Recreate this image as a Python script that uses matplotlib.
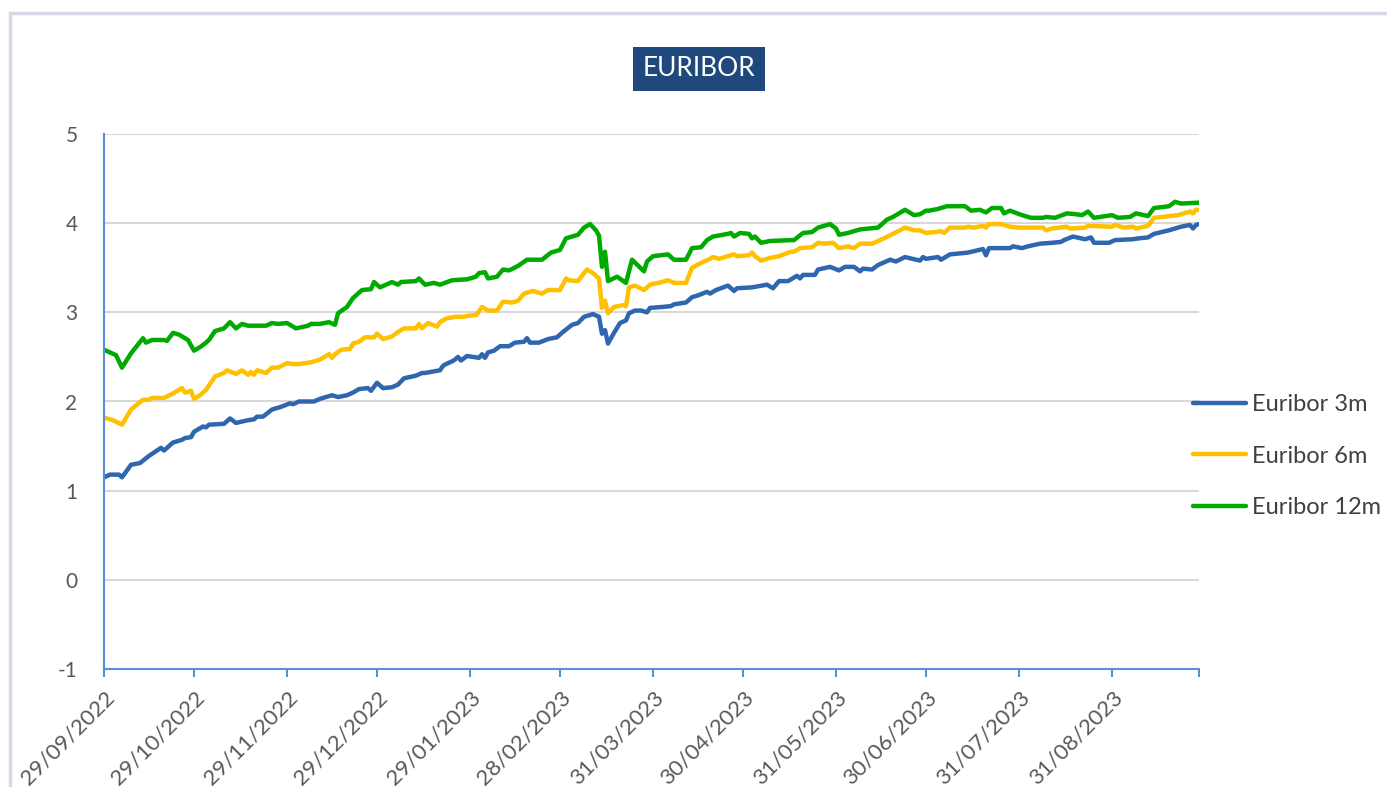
import numpy as np
import pandas as pd
import matplotlib
matplotlib.use("Agg")
import matplotlib.pyplot as plt
from matplotlib.patches import Rectangle

plt.rcParams['font.family'] = ['Lato', 'DejaVu Sans']
plt.rcParams['axes.unicode_minus'] = False

start = pd.Timestamp('2022-09-29')
end = pd.Timestamp('2023-09-29')

# days since 29/09/2022 and values
days_3m = [0, 2, 5, 6, 9, 12, 15, 19, 20, 23, 26, 27, 29, 30, 33, 34, 35, 40, 42, 44, 48, 50, 51, 53, 56, 59, 62, 63,
           65, 70, 72, 74, 76, 78, 81, 83, 85, 88, 89, 91, 93, 96, 98, 100, 104, 106, 107, 112, 113, 114, 116, 117,
           118, 119, 121, 125, 126, 127, 128, 130, 132, 135, 137, 140, 141, 142, 145, 148, 151, 153, 156, 158, 160,
           163, 165, 166, 167, 168, 170, 172, 174, 175, 177, 179, 181, 182, 186, 189, 190, 194, 196, 198, 201, 202,
           204, 208, 210, 211, 216, 221, 223, 225, 228, 229, 231, 232, 233, 237, 238, 242, 245, 247, 250, 252, 253,
           256, 258, 262, 264, 267, 272, 273, 274, 278, 279, 282, 288, 293, 294, 295, 302, 303, 306, 308, 312, 316,
           319, 320, 323, 327, 329, 330, 335, 337, 343, 345, 348, 350, 355, 359, 362, 363, 364, 365]
euribor_3m = [1.15, 1.18, 1.18, 1.15, 1.29, 1.31, 1.39, 1.48, 1.45, 1.54, 1.57, 1.59, 1.60, 1.66, 1.72, 1.71, 1.74,
              1.75, 1.81, 1.76, 1.79, 1.80, 1.83, 1.83, 1.91, 1.94, 1.98, 1.97, 2.00, 2.00, 2.03, 2.05, 2.07, 2.05,
              2.07, 2.10, 2.14, 2.15, 2.12, 2.21, 2.15, 2.16, 2.19, 2.26, 2.29, 2.32, 2.32, 2.35, 2.40, 2.42, 2.45,
              2.47, 2.50, 2.46, 2.51, 2.49, 2.53, 2.49, 2.55, 2.57, 2.62, 2.62, 2.66, 2.67, 2.71, 2.66, 2.66, 2.70,
              2.72, 2.78, 2.86, 2.88, 2.95, 2.98, 2.95, 2.76, 2.80, 2.65, 2.77, 2.88, 2.91, 2.99, 3.02, 3.02, 3.00,
              3.05, 3.06, 3.07, 3.09, 3.11, 3.17, 3.19, 3.23, 3.21, 3.25, 3.30, 3.24, 3.27, 3.28, 3.31, 3.27, 3.35,
              3.35, 3.37, 3.41, 3.38, 3.42, 3.42, 3.48, 3.51, 3.47, 3.51, 3.51, 3.46, 3.49, 3.48, 3.53, 3.59, 3.57,
              3.62, 3.58, 3.62, 3.60, 3.62, 3.59, 3.65, 3.67, 3.71, 3.64, 3.72, 3.72, 3.74, 3.72, 3.74, 3.77, 3.78,
              3.79, 3.81, 3.85, 3.82, 3.84, 3.78, 3.78, 3.81, 3.82, 3.83, 3.84, 3.88, 3.92, 3.96, 3.98, 3.94, 3.98,
              3.99]

days_6m = [0, 3, 6, 9, 13, 15, 16, 20, 23, 26, 27, 29, 30, 32, 34, 37, 40, 41, 44, 46, 48, 49, 50, 51, 54, 56, 58,
           61, 63, 65, 69, 72, 75, 76, 77, 79, 82, 83, 85, 87, 90, 91, 93, 96, 98, 100, 104, 105, 106, 108, 111, 112,
           114, 117, 120, 121, 124, 125, 126, 128, 131, 133, 136, 138, 140, 143, 146, 148, 152, 154, 155, 158, 160,
           161, 163, 165, 166, 167, 168, 170, 173, 174, 175, 177, 180, 182, 186, 188, 190, 194, 196, 200, 202, 203,
           205, 208, 210, 211, 215, 216, 217, 219, 222, 225, 229, 230, 232, 236, 238, 240, 243, 245, 248, 250, 252,
           256, 258, 260, 263, 267, 270, 272, 274, 277, 279, 280, 282, 287, 288, 290, 293, 294, 295, 299, 302, 305,
           313, 314, 316, 321, 322, 327, 328, 336, 337, 340, 343, 344, 348, 350, 358, 362, 363, 364, 365]
euribor_6m = [1.82, 1.79, 1.74, 1.91, 2.02, 2.02, 2.04, 2.04, 2.09, 2.15, 2.10, 2.12, 2.03, 2.07, 2.13, 2.28, 2.32,
              2.35, 2.31, 2.35, 2.30, 2.33, 2.30, 2.35, 2.32, 2.38, 2.38, 2.43, 2.42, 2.42, 2.44, 2.47, 2.53, 2.49,
              2.53, 2.58, 2.59, 2.65, 2.67, 2.72, 2.72, 2.76, 2.70, 2.73, 2.78, 2.82, 2.82, 2.87, 2.82, 2.88, 2.84,
              2.89, 2.93, 2.95, 2.95, 2.96, 2.97, 3.01, 3.06, 3.02, 3.02, 3.12, 3.11, 3.13, 3.21, 3.24, 3.21, 3.25,
              3.25, 3.38, 3.36, 3.35, 3.44, 3.48, 3.44, 3.38, 3.05, 3.13, 2.99, 3.06, 3.08, 3.07, 3.28, 3.30, 3.25,
              3.31, 3.34, 3.36, 3.33, 3.33, 3.50, 3.57, 3.60, 3.62, 3.60, 3.63, 3.65, 3.63, 3.64, 3.67, 3.63, 3.58,
              3.61, 3.63, 3.68, 3.68, 3.72, 3.73, 3.78, 3.77, 3.78, 3.72, 3.74, 3.72, 3.77, 3.77, 3.80, 3.83, 3.88,
              3.95, 3.92, 3.92, 3.89, 3.90, 3.91, 3.89, 3.95, 3.95, 3.96, 3.95, 3.97, 3.95, 3.99, 3.99, 3.96, 3.95,
              3.95, 3.92, 3.94, 3.96, 3.94, 3.95, 3.97, 3.96, 3.98, 3.95, 3.96, 3.94, 3.97, 4.06, 4.09, 4.13, 4.11,
              4.15, 4.15]

days_12m = [0, 4, 6, 9, 13, 14, 16, 20, 21, 23, 25, 28, 30, 32, 34, 35, 37, 40, 42, 44, 46, 48, 54, 56, 58, 61, 64,
            68, 69, 72, 75, 77, 78, 81, 83, 86, 89, 90, 92, 96, 98, 99, 104, 105, 107, 110, 112, 116, 121, 124, 125,
            127, 128, 131, 133, 135, 138, 141, 146, 149, 152, 154, 158, 160, 162, 164, 165, 166, 167, 168, 171, 174,
            176, 180, 181, 183, 188, 190, 194, 196, 199, 201, 203, 208, 209, 210, 212, 215, 216, 217, 219, 222, 229,
            230, 233, 236, 238, 242, 244, 245, 248, 252, 258, 261, 263, 267, 270, 272, 274, 275, 278, 281, 287, 289,
            292, 294, 296, 299, 300, 302, 306, 309, 313, 314, 317, 321, 324, 326, 328, 330, 336, 338, 342, 344, 348,
            350, 355, 357, 359, 365]
euribor_12m = [2.58, 2.52, 2.38, 2.54, 2.71, 2.66, 2.69, 2.69, 2.68, 2.77, 2.75, 2.69, 2.57, 2.61, 2.66, 2.69, 2.79,
               2.82, 2.89, 2.82, 2.87, 2.85, 2.85, 2.88, 2.87, 2.88, 2.82, 2.85, 2.87, 2.87, 2.89, 2.86, 2.99, 3.06,
               3.16, 3.25, 3.26, 3.34, 3.28, 3.34, 3.31, 3.34, 3.35, 3.38, 3.31, 3.33, 3.31, 3.36, 3.37, 3.40, 3.44,
               3.45, 3.38, 3.40, 3.48, 3.47, 3.52, 3.59, 3.59, 3.67, 3.70, 3.83, 3.87, 3.95, 3.99, 3.92, 3.86, 3.51,
               3.68, 3.35, 3.40, 3.33, 3.59, 3.46, 3.57, 3.63, 3.65, 3.59, 3.59, 3.72, 3.73, 3.81, 3.85, 3.88, 3.89,
               3.85, 3.89, 3.88, 3.83, 3.85, 3.78, 3.80, 3.81, 3.81, 3.89, 3.90, 3.95, 3.99, 3.94, 3.87, 3.89, 3.93,
               3.95, 4.04, 4.07, 4.15, 4.09, 4.10, 4.14, 4.14, 4.16, 4.19, 4.19, 4.14, 4.15, 4.12, 4.17, 4.17, 4.11,
               4.14, 4.09, 4.06, 4.06, 4.07, 4.06, 4.11, 4.10, 4.09, 4.13, 4.06, 4.09, 4.06, 4.07, 4.11, 4.08, 4.17,
               4.19, 4.24, 4.22, 4.23]

tick_labels = ['29/09/2022', '29/10/2022', '29/11/2022', '29/12/2022', '29/01/2023', '28/02/2023',
               '31/03/2023', '30/04/2023', '31/05/2023', '30/06/2023', '31/07/2023', '31/08/2023']
tick_dates = pd.to_datetime(tick_labels, format='%d/%m/%Y')

axis_blue = '#5B8ED8'
text_grey = '#595959'

fig = plt.figure(figsize=(13.87, 7.87), dpi=100)
ax = fig.add_axes([104 / 1387, 1 - 669 / 787, 1095 / 1387, 535 / 787])

# outer chart frame
fig.patches.append(Rectangle((10 / 1387, -0.1), 1.2, 1.1 - 13 / 787, transform=fig.transFigure,
                             fill=False, edgecolor='#D5D9E6', lw=2.5))

series = [(days_3m, euribor_3m, 'Euribor 3m', '#2F66B0'),
          (days_6m, euribor_6m, 'Euribor 6m', '#FFC000'),
          (days_12m, euribor_12m, 'Euribor 12m', '#00AA00')]
for d, v, name, col in series:
    dates = start + pd.to_timedelta(d, unit='D')
    ax.plot(dates, v, color=col, lw=3.2, label=name, solid_joinstyle='round', solid_capstyle='round')

ax.set_ylim(-1, 5)
ax.set_xlim(start, end)
ax.set_yticks(range(-1, 6))
ax.yaxis.grid(True, color='#D9D9D9', lw=1.5)
ax.set_axisbelow(True)

ax.set_xticks(tick_dates)
ax.set_xticklabels(tick_labels, rotation=45, ha='right', rotation_mode='anchor')
ax.set_xticks([end], minor=True)

for s in ['top', 'right']:
    ax.spines[s].set_visible(False)
for s in ['left', 'bottom']:
    ax.spines[s].set_color(axis_blue)
    ax.spines[s].set_linewidth(1.5)

ax.tick_params(axis='y', length=0, pad=19, labelsize=15, labelcolor=text_grey)
ax.tick_params(axis='x', which='both', length=6, width=1.5, color=axis_blue, direction='out',
               labelsize=16, labelcolor=text_grey, pad=7)

fig.text(699 / 1387, 1 - 69 / 787, 'EURIBOR', ha='center', va='center', color='white', fontsize=19,
         bbox=dict(facecolor='#1F497D', edgecolor='none', boxstyle='square,pad=0.36'))

fig.legend(loc='center left', bbox_to_anchor=(1193 / 1387, 1 - 456 / 787), frameon=False,
           borderaxespad=0, borderpad=0, fontsize=17, labelcolor='#404040', handlelength=2.25,
           labelspacing=1.3, handletextpad=0.25)

fig.savefig('out.png', dpi=100, facecolor='white')
